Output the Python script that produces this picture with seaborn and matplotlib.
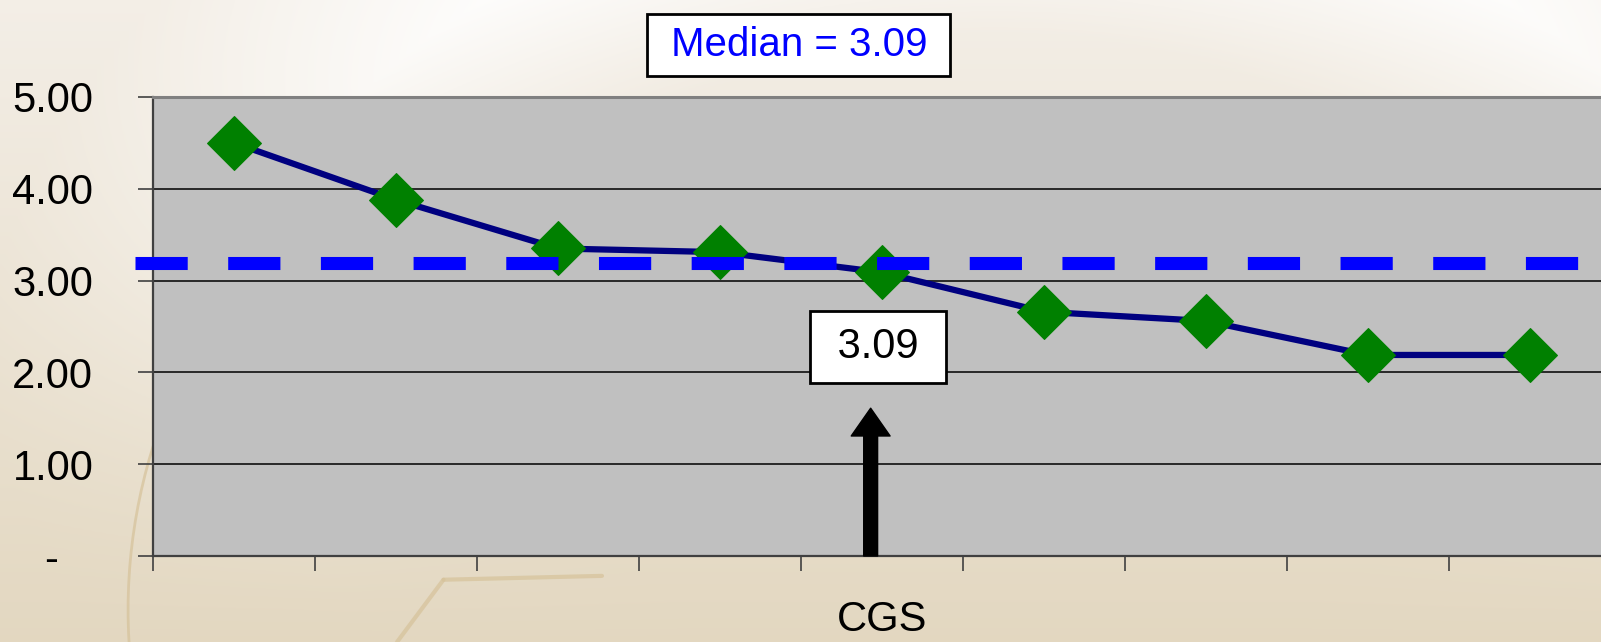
import numpy as np
import matplotlib
matplotlib.use("Agg")
import matplotlib.pyplot as plt
import seaborn as sns
from matplotlib.patches import Arc

# Data
scores = [4.50, 3.88, 3.35, 3.31, 3.09, 2.66, 2.56, 2.19, 2.19]
highlight_idx = 4          # the CGS point (3.09)
median_line = 3.19         # dashed reference line
median_text = " Median = 3.09 "
point_text = " 3.09 "
x_title = "CGS"
y_ticks = [0, 1, 2, 3, 4, 5]
y_labels = ["-   ", "1.00", "2.00", "3.00", "4.00", "5.00"]

sns.set_style("white")
plt.rcParams["font.family"] = ["Liberation Sans", "DejaVu Sans"]
plt.rcParams["text.color"] = "black"
plt.rcParams["axes.labelcolor"] = "black"
plt.rcParams["xtick.color"] = "black"
plt.rcParams["ytick.color"] = "black"

fig = plt.figure(figsize=(16.01, 6.42), dpi=100)

# beige slide background with a soft light swoosh
bg = fig.add_axes([0, 0, 1, 1], zorder=-5)
h, w = 321, 800
yy, xx = np.mgrid[0:h, 0:w] / np.array([h, w])[:, None, None]
top = np.array([0.955, 0.935, 0.905])
bot = np.array([0.890, 0.845, 0.755])
img = top + (bot - top) * yy[..., None]
dist = np.sqrt(((xx - 0.62) * 1.6) ** 2 + ((yy - 0.55) * 1.0) ** 2)
glow = np.clip(1 - np.abs(dist - 0.75) / 0.25, 0, 1) * (1 - yy) ** 1.5
img = img + (1 - img) * glow[..., None] * 0.85
bg.imshow(np.clip(img, 0, 1), aspect="auto", extent=[0, 1, 0, 1])
bg.add_patch(Arc((0.42, 0.05), 0.68, 1.7, theta1=140, theta2=200, color="#d6c29a", lw=2, alpha=0.7))
bg.plot([0.277, 0.376], [0.097, 0.103], color="#d6c29a", lw=3, alpha=0.7)
bg.plot([0.277, 0.248], [0.097, 0.0], color="#d6c29a", lw=3, alpha=0.7)
bg.set_xlim(0, 1)
bg.set_ylim(0, 1)
bg.axis("off")

ax = fig.add_axes([153 / 1601, 86 / 642, 1458 / 1601, 459 / 642])
ax.set_facecolor("#c0c0c0")

pos = np.arange(len(scores))
sns.lineplot(x=pos, y=scores, ax=ax, color="#000080", lw=4.5, marker="D",
             markersize=27, markerfacecolor="#008000", markeredgecolor="#008000",
             zorder=4)

ax.axhline(median_line, xmin=-0.0124, xmax=1, color="#0000ff", lw=9.4,
           linestyle=(0, (4, 3.1)), dash_capstyle="butt", clip_on=False, zorder=5)

ax.set_xlim(-0.5, len(scores) - 0.5)
ax.set_ylim(0, 5)
ax.set_yticks(y_ticks, labels=y_labels)
ax.set_xticks(np.arange(len(scores) + 1) - 0.5, labels=[])
ax.grid(axis="y", color="black", lw=1.1)
ax.grid(axis="x", visible=False)
ax.set_axisbelow(True)
ax.tick_params(axis="y", direction="out", length=11, width=1.2, color="#404040",
               pad=32, labelsize=30)
ax.tick_params(axis="x", direction="out", length=11, width=1.2, color="#404040")
ax.tick_params(left=True, bottom=True)

for side in ["left", "bottom"]:
    ax.spines[side].set_color("#404040")
    ax.spines[side].set_linewidth(1.6)
ax.spines["top"].set_color("#808080")
ax.spines["top"].set_linewidth(2.2)
ax.spines["right"].set_visible(False)

ax.set_xlabel(x_title, fontsize=30, labelpad=17)
ax.set_ylabel("")

# arrow pointing at the CGS value, and its label
ax.annotate("", xy=(highlight_idx - 0.07, 1.61), xytext=(highlight_idx - 0.07, 0),
            arrowprops=dict(arrowstyle="simple,head_length=1.0,head_width=1.4,tail_width=0.5",
                            color="black", shrinkA=0, shrinkB=0, mutation_scale=20),
            zorder=6)
ax.text(highlight_idx - 0.025, 2.28, point_text, fontsize=30, ha="center", va="center",
        bbox=dict(boxstyle="square,pad=0.38", fc="white", ec="black", lw=2), zorder=6)

ax.text(0.443, 1.113, median_text, transform=ax.transAxes, fontsize=29, color="#0000ff",
        ha="center", va="center",
        bbox=dict(boxstyle="square,pad=0.3", fc="white", ec="black", lw=2))

fig.savefig("out.png", dpi=100)
